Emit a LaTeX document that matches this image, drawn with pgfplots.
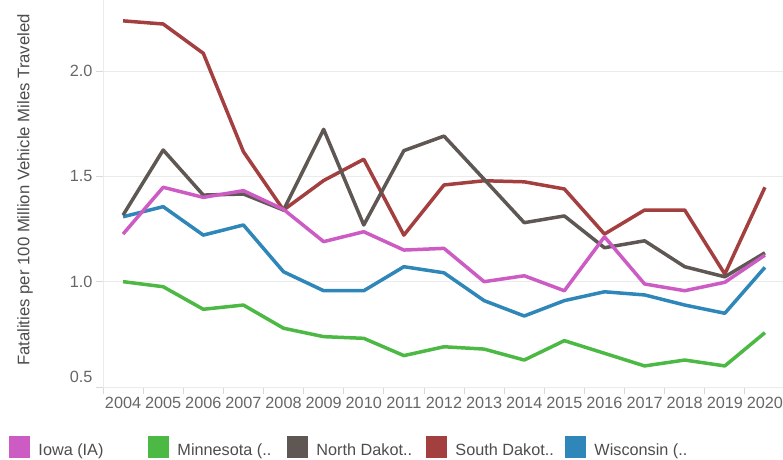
\documentclass[border=0pt]{standalone}
\usepackage{pgfplots}
\pgfplotsset{compat=1.18}
\usepackage{fontspec}
\setmainfont{Liberation Sans}
\definecolor{ia}{HTML}{CC5BC4}
\definecolor{mn}{HTML}{4CB944}
\definecolor{nd}{HTML}{5E5753}
\definecolor{sd}{HTML}{A33F3F}
\definecolor{wi}{HTML}{2E87B8}
\definecolor{gridc}{HTML}{EBEBEB}
\definecolor{tickc}{HTML}{D9D9D9}
\definecolor{labc}{HTML}{666666}
\definecolor{legc}{HTML}{4D4D4D}
\begin{document}
\begin{tikzpicture}
\path[use as bounding box] (-103bp,-73bp) rectangle (680bp,387bp);
\begin{axis}[
  scale only axis, width=680bp, height=387bp,
  xmin=2003.5, xmax=2020.45, ymin=0.5, ymax=2.337,
  axis x line*=bottom, axis y line*=left,
  axis line style={draw=gridc, line width=0.8bp},
  ymajorgrids, grid style={draw=gridc, line width=0.8bp},
  tick align=outside, major tick length=7bp,
  xtick={2004,2005,...,2020},
  xticklabels={2004,2005,2006,2007,2008,2009,2010,2011,2012,2013,2014,2015,2016,2017,2018,2019,2020},
  xtick style={draw=none},
  extra x ticks={2003.5,2004.5,...,2019.5},
  extra x tick labels={},
  extra x tick style={grid=none, xtick style={draw=tickc, line width=0.8bp}},
  ytick={1,1.5,2},
  yticklabels={1.0,1.5,2.0},
  extra y ticks={0.5},
  extra y tick labels={0.5},
  extra y tick style={yticklabel style={yshift=10bp}},
  ytick style={draw=tickc, line width=0.8bp},
  /pgf/number format/assume math mode=true,
  xticklabel style={font=\fontsize{16.3}{19}\selectfont, text=labc},
  yticklabel style={font=\fontsize{16.3}{19}\selectfont, text=labc},
  ylabel={Fatalities per 100 Million Vehicle Miles Traveled},
  ylabel style={at={(axis description cs:-0.1147,0.509)}, anchor=center,
    font=\fontsize{16.8}{19}\selectfont, text=legc},
  legend columns=5,
  legend cell align=left,
  legend image code/.code={\fill[line width=0pt] (0bp,-7bp) rectangle (20bp,14bp);},
  legend style={at={(axis description cs:-0.1378,-0.155)}, anchor=west,
    draw=none, fill=none, inner sep=0pt, nodes={inner sep=0pt},
    font=\fontsize{16.3}{19}\selectfont, text=legc,
    /tikz/every odd column/.append style={column sep=9bp}},
  every axis plot/.append style={line width=3.5bp, line join=round},
]
\addlegendimage{ia, fill=ia}
\addlegendentry{\makebox[110bp][l]{Iowa (IA)}}
\addlegendimage{mn, fill=mn}
\addlegendentry{\makebox[110bp][l]{Minnesota (..}}
\addlegendimage{nd, fill=nd}
\addlegendentry{\makebox[110bp][l]{North Dakot..}}
\addlegendimage{sd, fill=sd}
\addlegendentry{\makebox[110bp][l]{South Dakot..}}
\addlegendimage{wi, fill=wi}
\addlegendentry{\makebox[110bp][l]{Wisconsin (..}}

\addplot[wi, forget plot] coordinates {(2004,1.308) (2005,1.356) (2006,1.221) (2007,1.269) (2008,1.047) (2009,0.957) (2010,0.957) (2011,1.071) (2012,1.042) (2013,0.910) (2014,0.837) (2015,0.910) (2016,0.952) (2017,0.937) (2018,0.889) (2019,0.850) (2020,1.068)};
\addplot[sd, forget plot] coordinates {(2004,2.238) (2005,2.223) (2006,2.084) (2007,1.617) (2008,1.340) (2009,1.480) (2010,1.581) (2011,1.221) (2012,1.459) (2013,1.479) (2014,1.474) (2015,1.440) (2016,1.226) (2017,1.340) (2018,1.340) (2019,1.036) (2020,1.448)};
\addplot[nd, forget plot] coordinates {(2004,1.316) (2005,1.625) (2006,1.411) (2007,1.416) (2008,1.340) (2009,1.723) (2010,1.269) (2011,1.622) (2012,1.691) (2013,1.486) (2014,1.280) (2015,1.312) (2016,1.161) (2017,1.194) (2018,1.071) (2019,1.023) (2020,1.137)};
\addplot[mn, forget plot] coordinates {(2004,1.000) (2005,0.976) (2006,0.869) (2007,0.889) (2008,0.779) (2009,0.739) (2010,0.731) (2011,0.649) (2012,0.691) (2013,0.680) (2014,0.628) (2015,0.720) (2016,0.660) (2017,0.600) (2018,0.628) (2019,0.600) (2020,0.758)};
\addplot[ia, forget plot] coordinates {(2004,1.226) (2005,1.448) (2006,1.400) (2007,1.432) (2008,1.343) (2009,1.190) (2010,1.237) (2011,1.150) (2012,1.158) (2013,1.000) (2014,1.028) (2015,0.957) (2016,1.213) (2017,0.989) (2018,0.957) (2019,0.997) (2020,1.126)};
\end{axis}
\end{tikzpicture}
\end{document}
